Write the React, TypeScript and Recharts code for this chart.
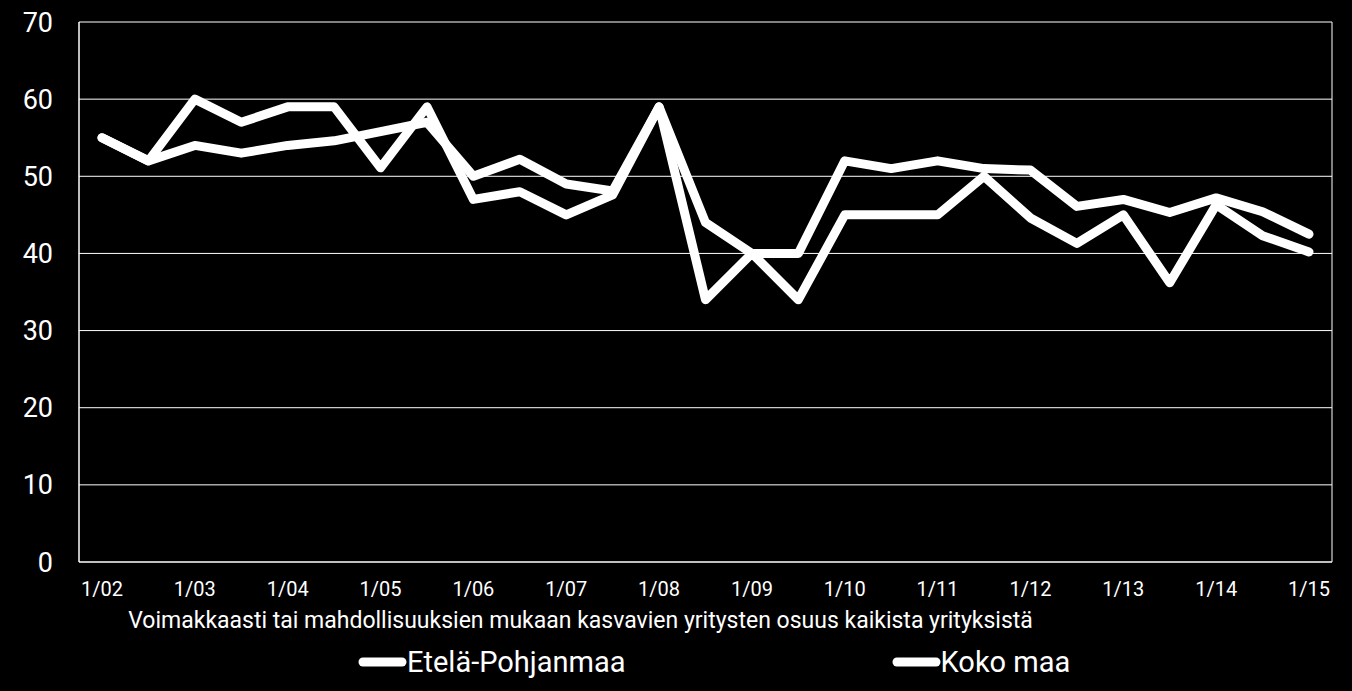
import React from 'react';
import { LineChart, Line, XAxis, YAxis, CartesianGrid, Legend } from 'recharts';

const FONT = 'Roboto, "Noto Sans", sans-serif';

const categories = [
  '1/02', '7/02', '1/03', '7/03', '1/04', '7/04', '1/05', '7/05', '1/06', '7/06',
  '1/07', '7/07', '1/08', '7/08', '1/09', '7/09', '1/10', '7/10', '1/11', '7/11',
  '1/12', '7/12', '1/13', '7/13', '1/14', '7/14', '1/15',
];

const etelaPohjanmaa = [
  55, 52, 60, 57, 59, 59, 51.1, 59, 47, 48,
  45, 47.6, 59, 34, 40, 34, 45, 45, 45, 50,
  44.6, 41.3, 45, 36.2, 46.3, 42.3, 40.2,
];

const kokoMaa = [
  55, 52, 54, 53, 54, 54.6, 55.8, 57, 50, 52.2,
  49, 48.1, 59, 44, 40, 40, 52, 51, 52, 51,
  50.8, 46.1, 47, 45.3, 47.2, 45.4, 42.5,
];

const yTicks = [0, 10, 20, 30, 40, 50, 60, 70];
const seriesNames = ['Etelä-Pohjanmaa', 'Koko maa'];
const subtitle =
  'Voimakkaasti tai mahdollisuuksien mukaan kasvavien yritysten osuus kaikista yrityksistä';

const data = categories.map((c, i) => ({
  period: c,
  ep: etelaPohjanmaa[i],
  km: kokoMaa[i],
}));

const renderLegend = (props: any) => {
  const payload = props.payload || [];
  return (
    <div
      style={{
        display: 'flex',
        alignItems: 'center',
        height: 44,
        paddingLeft: 358,
        gap: 266,
        fontFamily: FONT,
        fontSize: 29,
        color: '#fff',
        lineHeight: '44px',
      }}
    >
      {payload.map((p: any, i: number) => (
        <div key={i} style={{ display: 'flex', alignItems: 'center' }}>
          <svg width={49} height={12} style={{ display: 'block' }}>
            <line x1={5} y1={6} x2={44} y2={6} stroke="#fff" strokeWidth={9} strokeLinecap="round" />
          </svg>
          <span>{p.value}</span>
        </div>
      ))}
    </div>
  );
};

export default function App() {
  return (
    <div
      style={{
        position: 'absolute',
        left: 0,
        top: 0,
        width: 1352,
        height: 691,
        background: '#000',
      }}
    >
      <LineChart
        width={1352}
        height={691}
        data={data}
        margin={{ top: 22, right: 20, left: 0, bottom: 7 }}
      >
        <CartesianGrid
          stroke="#fff"
          strokeWidth={1}
          horizontal={true}
          vertical={true}
          verticalCoordinatesGenerator={(args: any) => [
            args.offset.left,
            args.offset.left + args.offset.width,
          ]}
        />
        <XAxis
          dataKey="period"
          interval={1}
          padding={{ left: 23, right: 23 }}
          tickLine={false}
          axisLine={{ stroke: '#fff' }}
          tickSize={6}
          tickMargin={14}
          height={78}
          tick={{ fill: '#fff', fontSize: 20, fontFamily: FONT }}
          label={{
            value: subtitle,
            position: 'insideBottom',
            offset: 12,
            dx: -125,
            fill: '#fff',
            fontSize: 23,
            fontFamily: FONT,
          }}
        />
        <YAxis
          domain={[0, 70]}
          ticks={yTicks}
          width={79}
          tickLine={false}
          axisLine={{ stroke: '#fff' }}
          tickSize={6}
          tickMargin={20}
          tick={{ fill: '#fff', fontSize: 27, fontFamily: FONT }}
        />
        <Legend
          verticalAlign="bottom"
          content={renderLegend}
          wrapperStyle={{ left: 0, width: 1352, height: 44 }}
        />
        <Line
          type="linear"
          dataKey="ep"
          name={seriesNames[0]}
          stroke="#fff"
          strokeWidth={9}
          strokeLinecap="round"
          strokeLinejoin="round"
          dot={false}
          activeDot={false}
          isAnimationActive={false}
        />
        <Line
          type="linear"
          dataKey="km"
          name={seriesNames[1]}
          stroke="#fff"
          strokeWidth={9}
          strokeLinecap="round"
          strokeLinejoin="round"
          dot={false}
          activeDot={false}
          isAnimationActive={false}
        />
      </LineChart>
    </div>
  );
}
